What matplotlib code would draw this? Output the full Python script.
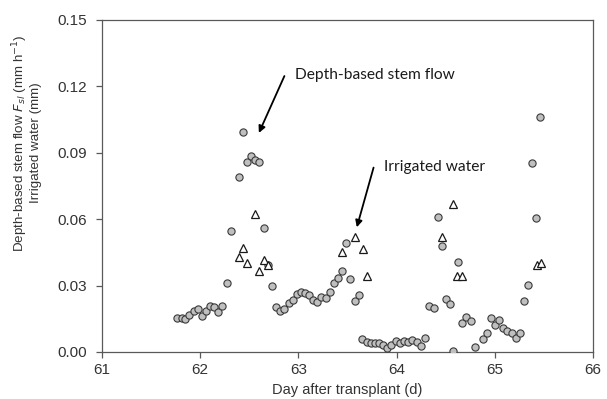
import matplotlib
matplotlib.use('Agg')
import matplotlib.pyplot as plt

# depth-based stem flow (circles), hourly
flow_day = [61.767, 61.812, 61.845, 61.889, 61.934, 61.978, 62.021, 62.059, 62.100, 62.141,
            62.184, 62.225, 62.273, 62.314, 62.395, 62.436, 62.477, 62.517, 62.561, 62.602,
            62.650, 62.693, 62.731, 62.772, 62.813, 62.856, 62.901, 62.942, 62.983, 63.023,
            63.064, 63.108, 63.152, 63.192, 63.233, 63.278, 63.322, 63.363, 63.406, 63.447,
            63.488, 63.529, 63.573, 63.614, 63.651, 63.696, 63.739, 63.780, 63.824, 63.865,
            63.906, 63.946, 63.991, 64.035, 64.075, 64.119, 64.160, 64.205, 64.245, 64.286,
            64.327, 64.378, 64.419, 64.459, 64.500, 64.541, 64.577, 64.622, 64.663, 64.707,
            64.755, 64.795, 64.880, 64.921, 64.958, 64.999, 65.043, 65.087, 65.127, 65.172,
            65.213, 65.254, 65.297, 65.335, 65.379, 65.423, 65.463]
flow_val = [0.0152, 0.0152, 0.0149, 0.0167, 0.0187, 0.0194, 0.0164, 0.0184, 0.0208, 0.0202,
            0.0182, 0.0208, 0.0313, 0.0547, 0.0792, 0.0994, 0.0857, 0.0883, 0.0866, 0.0860,
            0.0562, 0.0393, 0.0300, 0.0205, 0.0187, 0.0194, 0.0223, 0.0236, 0.0261, 0.0270,
            0.0265, 0.0259, 0.0234, 0.0227, 0.0249, 0.0244, 0.0272, 0.0312, 0.0334, 0.0367,
            0.0491, 0.0331, 0.0229, 0.0259, 0.0057, 0.0044, 0.0039, 0.0039, 0.0039, 0.0032,
            0.0019, 0.0032, 0.0048, 0.0039, 0.0050, 0.0047, 0.0054, 0.0044, 0.0028, 0.0062,
            0.0209, 0.0200, 0.0609, 0.0480, 0.0238, 0.0218, 0.0006, 0.0408, 0.0132, 0.0160,
            0.0141, 0.0024, 0.0057, 0.0087, 0.0152, 0.0123, 0.0143, 0.0110, 0.0095, 0.0087,
            0.0062, 0.0085, 0.0232, 0.0303, 0.0853, 0.0604, 0.1063]

# irrigated water (triangles)
irr_day = [62.395, 62.436, 62.480, 62.561, 62.599, 62.650, 62.693,
           63.447, 63.573, 63.655, 63.702,
           64.459, 64.577, 64.618, 64.666,
           65.426, 65.470]
irr_val = [0.0431, 0.0471, 0.0404, 0.0622, 0.0365, 0.0416, 0.0393,
           0.0453, 0.0518, 0.0467, 0.0342,
           0.0518, 0.0667, 0.0342, 0.0342,
           0.0393, 0.0404]

plt.rcParams['font.family'] = ['Liberation Sans', 'DejaVu Sans']

fig = plt.figure(figsize=(6.07, 3.99), dpi=100)
ax = fig.add_axes([0.168, 0.118, 0.809, 0.832])

ax.plot(flow_day, flow_val, 'o', ms=5.2, mfc='#bfbfbf', mec='#3a3a3a', mew=0.8, zorder=3)
ax.plot(irr_day, irr_val, '^', ms=6.2, mfc='white', mec='#1a1a1a', mew=0.9, zorder=4)

ax.set_xlim(61, 66)
ax.set_ylim(0, 0.15)
ax.set_xticks([61, 62, 63, 64, 65, 66])
ax.set_yticks([0, 0.03, 0.06, 0.09, 0.12, 0.15])
ax.set_yticklabels(['0.00', '0.03', '0.06', '0.09', '0.12', '0.15'])

for s in ax.spines.values():
    s.set_color('#595959')
    s.set_linewidth(0.9)
ax.tick_params(direction='out', length=4, width=0.9, color='#595959',
               labelsize=11, labelcolor='#333333')
ax.tick_params(axis='y', pad=6.5)
ax.tick_params(axis='x', pad=4)

ax.set_xlabel('Day after transplant (d)', fontsize=10.5, color='#333333', labelpad=4)
ax.set_ylabel('Depth-based stem flow $F_{sl}$ (mm h$^{-1}$)\nIrrigated water (mm)',
              fontsize=9.6, color='#333333', linespacing=1.05)
ax.yaxis.set_label_coords(-0.122, 0.63)

ann_font = ['Lato', 'DejaVu Sans']
ax.annotate('', xy=(62.586, 0.0978), xytext=(62.869, 0.1258),
            arrowprops=dict(arrowstyle='-|>', color='black', lw=1.3, mutation_scale=10))
ax.text(62.965, 0.1252, 'Depth-based stem flow', fontsize=11.2, family=ann_font,
        va='center', ha='left', color='#1a1a1a')
ax.annotate('', xy=(63.587, 0.0551), xytext=(63.773, 0.0845),
            arrowprops=dict(arrowstyle='-|>', color='black', lw=1.3, mutation_scale=10))
ax.text(63.872, 0.0837, 'Irrigated water', fontsize=11.2, family=ann_font,
        va='center', ha='left', color='#1a1a1a')

fig.savefig('out.png', dpi=100)
